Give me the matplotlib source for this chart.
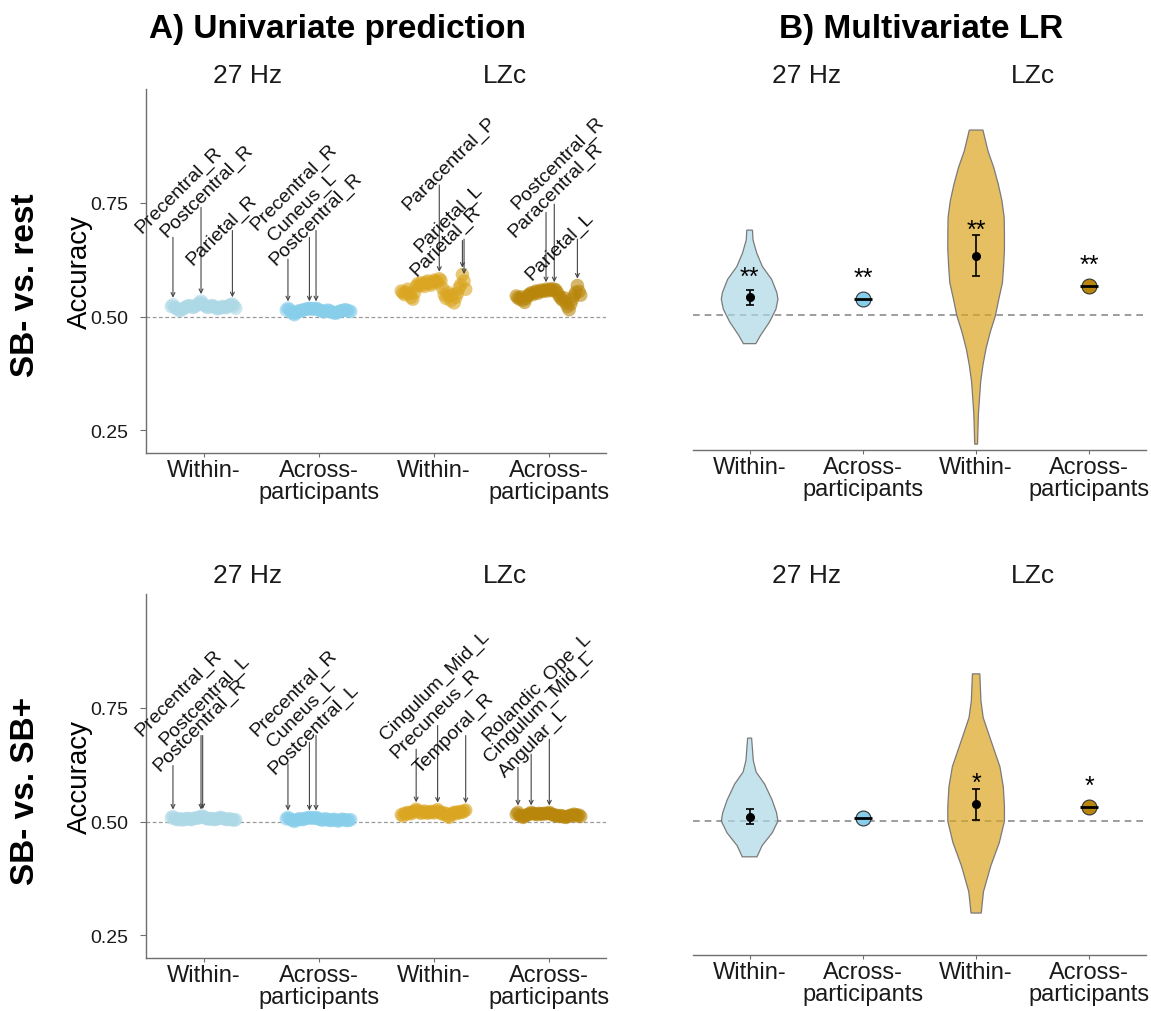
import numpy as np
import matplotlib.pyplot as plt
from matplotlib.transforms import blended_transform_factory

plt.rcParams['font.family'] = ['Liberation Sans', 'DejaVu Sans']

# ---------------- data ----------------
x_labels = ["Within-", "Across-\nparticipants", "Within-", "Across-\nparticipants"]
feature_names = ["27 Hz", "LZc"]
row_names = ["SB- vs. rest", "SB- vs. SB+"]
panel_titles = ["A) Univariate prediction", "B) Multivariate LR"]
y_ticks = [0.25, 0.50, 0.75]

# Univariate per-ROI accuracies, SB- vs. rest
rest_27_within = [0.522, 0.526, 0.520, 0.518, 0.515, 0.513, 0.514, 0.517, 0.519, 0.521,
                  0.523, 0.524, 0.522, 0.520, 0.521, 0.524, 0.527, 0.530, 0.534, 0.529,
                  0.525, 0.522, 0.520, 0.521, 0.523, 0.524, 0.522, 0.519, 0.517, 0.518,
                  0.520, 0.522, 0.521, 0.519, 0.522, 0.524, 0.526, 0.527, 0.523, 0.518]
rest_27_across = [0.514, 0.518, 0.515, 0.510, 0.506, 0.504, 0.508, 0.511, 0.513, 0.512,
                  0.514, 0.515, 0.516, 0.517, 0.518, 0.517, 0.516, 0.517, 0.518, 0.516,
                  0.514, 0.513, 0.511, 0.510, 0.512, 0.514, 0.513, 0.511, 0.509, 0.508,
                  0.507, 0.509, 0.511, 0.512, 0.513, 0.514, 0.515, 0.513, 0.512, 0.511]
rest_lzc_within = [0.556, 0.552, 0.548, 0.554, 0.560, 0.550, 0.542, 0.538, 0.552, 0.566,
                   0.572, 0.568, 0.574, 0.570, 0.566, 0.575, 0.578, 0.572, 0.569, 0.576,
                   0.580, 0.577, 0.574, 0.583, 0.579, 0.562, 0.548, 0.540, 0.553, 0.545,
                   0.535, 0.548, 0.530, 0.542, 0.551, 0.563, 0.570, 0.592, 0.578, 0.560]
rest_lzc_across = [0.545, 0.541, 0.538, 0.543, 0.536, 0.531, 0.540, 0.546, 0.549, 0.552,
                   0.548, 0.553, 0.556, 0.551, 0.555, 0.558, 0.555, 0.557, 0.560, 0.556,
                   0.559, 0.561, 0.557, 0.560, 0.558, 0.552, 0.545, 0.540, 0.536, 0.541,
                   0.530, 0.522, 0.515, 0.528, 0.538, 0.546, 0.553, 0.568, 0.555, 0.547]

# Univariate per-ROI accuracies, SB- vs. SB+
plus_27_within = [0.508, 0.511, 0.507, 0.505, 0.504, 0.506, 0.505, 0.503, 0.505, 0.506,
                  0.507, 0.505, 0.504, 0.506, 0.507, 0.508, 0.507, 0.509, 0.511, 0.512,
                  0.509, 0.507, 0.506, 0.505, 0.507, 0.506, 0.504, 0.505, 0.506, 0.508,
                  0.509, 0.507, 0.506, 0.505, 0.504, 0.506, 0.505, 0.504, 0.503, 0.504]
plus_27_across = [0.506, 0.509, 0.506, 0.504, 0.502, 0.500, 0.503, 0.505, 0.506, 0.505,
                  0.504, 0.506, 0.507, 0.508, 0.509, 0.508, 0.507, 0.508, 0.509, 0.507,
                  0.505, 0.504, 0.503, 0.505, 0.506, 0.504, 0.503, 0.502, 0.504, 0.505,
                  0.503, 0.501, 0.502, 0.504, 0.505, 0.504, 0.503, 0.502, 0.503, 0.504]
plus_lzc_within = [0.515, 0.512, 0.518, 0.516, 0.520, 0.519, 0.517, 0.521, 0.523, 0.527,
                   0.524, 0.520, 0.518, 0.521, 0.523, 0.520, 0.518, 0.521, 0.522, 0.520,
                   0.519, 0.523, 0.526, 0.522, 0.518, 0.516, 0.519, 0.517, 0.512, 0.509,
                   0.514, 0.518, 0.520, 0.517, 0.521, 0.519, 0.522, 0.520, 0.523, 0.525]
plus_lzc_across = [0.516, 0.520, 0.514, 0.512, 0.509, 0.511, 0.514, 0.515, 0.517, 0.520,
                   0.518, 0.516, 0.517, 0.515, 0.518, 0.517, 0.516, 0.518, 0.517, 0.518,
                   0.520, 0.517, 0.515, 0.513, 0.514, 0.512, 0.511, 0.513, 0.512, 0.510,
                   0.509, 0.511, 0.512, 0.514, 0.513, 0.516, 0.515, 0.512, 0.514, 0.511]

# labelled ROIs: (group 0..3, ROI index in group, name)
rest_roi_labels = [(0, 1, "Precentral_R"), (0, 18, "Postcentral_R"), (0, 37, "Parietal_R"),
                   (1, 1, "Precentral_R"), (1, 14, "Cuneus_L"), (1, 18, "Postcentral_R"),
                   (2, 23, "Paracentral_P"), (2, 37, "Parietal_L"), (2, 38, "Parietal_R"),
                   (3, 18, "Postcentral_R"), (3, 23, "Paracentral_R"), (3, 37, "Parietal_L")]
plus_roi_labels = [(0, 1, "Precentral_R"), (0, 18, "Postcentral_L"), (0, 19, "Postcentral_R"),
                   (1, 1, "Precentral_R"), (1, 14, "Cuneus_L"), (1, 18, "Postcentral_L"),
                   (2, 9, "Cingulum_Mid_L"), (2, 22, "Precuneus_R"), (2, 39, "Temporal_R"),
                   (3, 1, "Rolandic_Ope_L"), (3, 9, "Cingulum_Mid_L"), (3, 20, "Angular_L")]

# Multivariate LR: within-participant distributions (violin profile), mean and CI
rest_v27_acc = [0.690, 0.668, 0.639, 0.609, 0.580, 0.551, 0.536, 0.514, 0.485, 0.455, 0.437]
rest_v27_den = [0.10, 0.12, 0.25, 0.45, 0.78, 0.96, 1.00, 0.93, 0.70, 0.38, 0.22]
rest_vlzc_acc = [0.913, 0.866, 0.830, 0.793, 0.756, 0.719, 0.683, 0.646, 0.609, 0.573,
                 0.536, 0.499, 0.463, 0.426, 0.389, 0.352, 0.316, 0.279, 0.213]
rest_vlzc_den = [0.24, 0.42, 0.62, 0.78, 0.91, 0.99, 1.00, 1.00, 0.97, 0.93,
                 0.80, 0.68, 0.50, 0.35, 0.24, 0.16, 0.12, 0.08, 0.05]
plus_v27_acc = [0.686, 0.636, 0.610, 0.583, 0.548, 0.519, 0.500, 0.474, 0.445, 0.420]
plus_v27_den = [0.07, 0.13, 0.23, 0.53, 0.79, 0.95, 1.00, 0.80, 0.44, 0.26]
plus_vlzc_acc = [0.830, 0.769, 0.732, 0.696, 0.622, 0.577, 0.533, 0.500, 0.452, 0.400, 0.342, 0.294]
plus_vlzc_den = [0.13, 0.17, 0.25, 0.44, 0.84, 0.96, 1.00, 1.00, 0.82, 0.52, 0.26, 0.18]

rest_within_mean = [0.540, 0.633]
rest_within_lo = [0.523, 0.587]
rest_within_hi = [0.556, 0.678]
rest_across = [0.536, 0.565]
plus_within_mean = [0.510, 0.538]
plus_within_lo = [0.494, 0.502]
plus_within_hi = [0.527, 0.572]
plus_across = [0.506, 0.532]
rest_stars = ["**", "**", "**", "**"]
plus_stars = ["", "", "*", "*"]

# ---------------- layout / style ----------------
W, H = 1151, 1012
fig = plt.figure(figsize=(W / 100, H / 100), dpi=100)

def frac(x0, y_top, w, h):
    return [x0 / W, 1 - (y_top + h) / H, w / W, h / H]

ax_tl = fig.add_axes(frac(146, 90, 460, 364))
ax_bl = fig.add_axes(frac(146, 595, 460, 364))
ax_tr = fig.add_axes(frac(693, 92, 453, 359))
ax_br = fig.add_axes(frac(693, 599, 453, 357))

uni_colors = ["#ADD8E6", "#87CEEB", "#DAA520", "#B8860B"]
spine_col = "#6e6e6e"

# label text layout: (text x, text y, segment top y) in data coords
rest_label_layout = [(0.785, 0.780, 0.674), (1.028, 0.776, 0.740), (1.158, 0.692, 0.689),
                     (1.781, 0.786, 0.626), (1.859, 0.742, 0.674), (1.976, 0.716, 0.689),
                     (3.135, 0.837, 0.789), (3.135, 0.718, 0.667), (3.106, 0.667, 0.670),
                     (4.077, 0.838, 0.729), (4.063, 0.780, 0.747), (4.100, 0.656, 0.670)]
plus_label_layout = [(0.787, 0.784, 0.623), (1.013, 0.768, 0.689), (0.970, 0.714, 0.689),
                     (1.781, 0.784, 0.626), (1.854, 0.740, 0.674), (1.961, 0.705, 0.689),
                     (3.013, 0.801, 0.659), (3.019, 0.738, 0.711), (3.178, 0.696, 0.689),
                     (3.903, 0.797, 0.619), (3.917, 0.751, 0.648), (3.868, 0.674, 0.681)]


def style_common(ax, show_y):
    ax.set_xlim(0.5, 4.5)
    ax.set_ylim(0.2, 1.0)
    for s in ["top", "right"]:
        ax.spines[s].set_visible(False)
    ax.spines["bottom"].set_color(spine_col)
    ax.spines["bottom"].set_linewidth(1.0)
    ax.set_xticks([1, 2, 3, 4])
    ax.set_xticklabels(x_labels, fontsize=17, linespacing=1.0, color="#1a1a1a")
    ax.tick_params(axis="x", length=3, color=spine_col, pad=1)
    if show_y:
        ax.spines["left"].set_color(spine_col)
        ax.spines["left"].set_linewidth(1.0)
        ax.set_yticks(y_ticks)
        ax.set_yticklabels([f"{t:.2f}" for t in y_ticks], fontsize=14, color="#1a1a1a")
        ax.tick_params(axis="y", length=4, color=spine_col, pad=9)
    else:
        ax.spines["left"].set_visible(False)
        ax.set_yticks([])


def univariate(ax, groups, labels, layout):
    style_common(ax, True)
    ax.axhline(0.5, color="#9a9a9a", lw=0.9, ls=(0, (3, 2)), zorder=1)
    pos_all = []
    for g, vals in enumerate(groups):
        offs = np.linspace(-0.28, 0.28, len(vals))
        xs = (g + 1) + offs
        pos_all.append(xs)
        ax.scatter(xs, vals, s=95, color=uni_colors[g], alpha=0.6, edgecolors="none", zorder=3)
    for (g, idx, name), (tx, ty, segtop) in zip(labels, layout):
        px = pos_all[g][idx]
        py = groups[g][idx]
        ax.annotate("", xy=(px, py), xytext=(px, segtop),
                    arrowprops=dict(arrowstyle="->", color="#444444", lw=0.8,
                                    shrinkA=0, shrinkB=5, mutation_scale=7), zorder=4)
        ax.text(tx, ty, name, rotation=45, rotation_mode="anchor", ha="center", va="center",
                fontsize=14, color="#111111", zorder=5)


def violin(ax, x, acc, den, color):
    acc = np.asarray(acc)
    w = np.asarray(den) * 0.25
    xs = np.r_[x - w, (x + w)[::-1]]
    ys = np.r_[acc, acc[::-1]]
    ax.fill(xs, ys, facecolor=color, alpha=0.7, edgecolor="none", zorder=2)
    ax.fill(xs, ys, facecolor="none", edgecolor="#7a7a7a", lw=0.9, zorder=2)


def multivariate(ax, profiles, means, los, his, across, stars, star_y):
    style_common(ax, False)
    ax.axhline(0.5, color="#8c8c8c", lw=1.2, ls=(0, (4, 3)), zorder=1)
    (a27, d27), (alz, dlz) = profiles
    violin(ax, 1, a27, d27, "#ADD8E6")
    violin(ax, 3, alz, dlz, "#DAA520")
    for k, x in enumerate([1, 3]):
        ax.errorbar([x], [means[k]], yerr=[[means[k] - los[k]], [his[k] - means[k]]],
                    fmt="o", color="black", ms=5.5, capsize=2.8, elinewidth=1.2,
                    capthick=1.2, zorder=5)
    for k, (x, c) in enumerate(zip([2, 4], ["#87CEEB", "#B8860B"])):
        ax.scatter([x], [across[k]], s=115, color=c, edgecolors="#333333", linewidths=0.8, zorder=4)
        ax.plot([x], [across[k]], marker="_", ms=13, mew=2.0, color="black", zorder=5)
    for k, s in enumerate(stars):
        if s:
            ax.text(k + 1, star_y[k] - 0.030, s, ha="center", va="baseline",
                    fontsize=18, color="black", zorder=6)


univariate(ax_tl, [rest_27_within, rest_27_across, rest_lzc_within, rest_lzc_across],
           rest_roi_labels, rest_label_layout)
univariate(ax_bl, [plus_27_within, plus_27_across, plus_lzc_within, plus_lzc_across],
           plus_roi_labels, plus_label_layout)

rest_star_y = [0.600, 0.597, 0.706, 0.628]
plus_star_y = [0.0, 0.0, 0.601, 0.594]
multivariate(ax_tr, [(rest_v27_acc, rest_v27_den), (rest_vlzc_acc, rest_vlzc_den)],
             rest_within_mean, rest_within_lo, rest_within_hi, rest_across, rest_stars, rest_star_y)
multivariate(ax_br, [(plus_v27_acc, plus_v27_den), (plus_vlzc_acc, plus_vlzc_den)],
             plus_within_mean, plus_within_lo, plus_within_hi, plus_across, plus_stars, plus_star_y)

# facet labels
for ax, xs, ybase in [(ax_tl, [1.387, 3.617], 83), (ax_bl, [1.387, 3.617], 583),
                      (ax_tr, [1.5, 3.5], 83), (ax_br, [1.5, 3.5], 583)]:
    tr = blended_transform_factory(ax.transData, fig.transFigure)
    for x, name in zip(xs, feature_names):
        ax.text(x, 1 - ybase / H, name, transform=tr, ha="center", va="baseline",
                fontsize=19, color="#1a1a1a")

# titles
fig.text(337.5 / W, 1 - 38 / H, panel_titles[0], ha="center", va="baseline",
         fontsize=24, fontweight="bold")
fig.text(921 / W, 1 - 38 / H, panel_titles[1], ha="center", va="baseline",
         fontsize=24, fontweight="bold")

# row labels
fig.text(26 / W, 1 - 285 / H, row_names[0], rotation=90, ha="center", va="center",
         fontsize=24, fontweight="bold")
fig.text(26 / W, 1 - 791 / H, row_names[1], rotation=90, ha="center", va="center",
         fontsize=24, fontweight="bold")

# y axis labels
fig.text(80 / W, 1 - 272 / H, "Accuracy", rotation=90, ha="center", va="center", fontsize=20)
fig.text(80 / W, 1 - 777 / H, "Accuracy", rotation=90, ha="center", va="center", fontsize=20)

fig.savefig("out.png", dpi=100, facecolor="white")
